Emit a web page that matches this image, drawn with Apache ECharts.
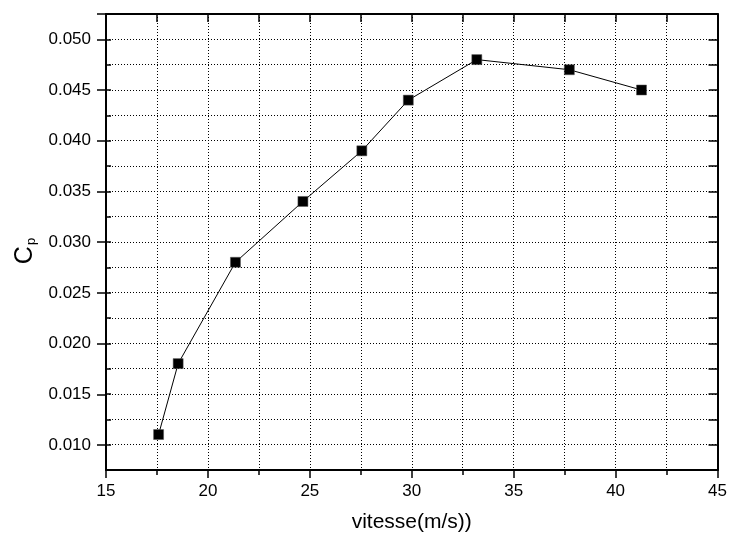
<!DOCTYPE html>
<html>
<head>
<meta charset="utf-8">
<script src="https://cdn.jsdelivr.net/npm/echarts@6/dist/echarts.min.js"></script>
<style>
  html, body { margin: 0; padding: 0; background: #fff; }
  #chart { width: 730px; height: 538px; }
</style>
</head>
<body>
<div id="chart"></div>
<script>
// vitesse (m/s) et coefficient de puissance
const vitesse = [17.58, 18.54, 21.35, 24.66, 27.55, 29.83, 33.19, 37.73, 41.27]
const cp = [0.011, 0.018, 0.028, 0.034, 0.039, 0.044, 0.048, 0.047, 0.045]

const font = 'Liberation Sans, Arial, sans-serif'
const dots = { color: '#000', width: 1, type: [1, 2] }

const chart = echarts.init(document.getElementById('chart'))

// grille 1 = zone du tracé ; grille 2 = même échelle, démarrant à 0.010
// pour poser les graduations principales (0.010, 0.015, ...) vers l'extérieur
const option = {
  animation: false,
  backgroundColor: '#fff',
  grid: [
    { left: 106, right: 11, top: 14, bottom: 68 },
    { left: 106, right: 11, top: 14, bottom: 93 }
  ],
  xAxis: [
    {
      type: 'value', gridIndex: 0, position: 'bottom',
      min: 15, max: 45, interval: 5,
      name: 'vitesse(m/s))', nameLocation: 'middle', nameGap: 42,
      nameTextStyle: { fontFamily: font, fontSize: 21, color: '#000' },
      axisLine: { onZero: false, lineStyle: { color: '#000', width: 2 } },
      axisTick: { inside: false, length: 8, lineStyle: { color: '#000', width: 1.5 } },
      minorTick: { show: true, splitNumber: 2, length: 5, lineStyle: { color: '#000', width: 1.5 } },
      axisLabel: { margin: 13, fontFamily: font, fontSize: 17, color: '#000' },
      splitLine: { show: true, lineStyle: dots },
      minorSplitLine: { show: true, lineStyle: dots }
    },
    {
      type: 'value', gridIndex: 0, position: 'top',
      min: 15, max: 45, interval: 2.5,
      axisLine: { onZero: false, lineStyle: { color: '#000', width: 2 } },
      axisTick: { inside: true, length: 8, lineStyle: { color: '#000', width: 1.5 } },
      axisLabel: { show: false },
      splitLine: { show: false }
    },
    { type: 'value', gridIndex: 1, min: 15, max: 45, show: false }
  ],
  yAxis: [
    {
      type: 'value', gridIndex: 0, position: 'left',
      min: 0.0075, max: 0.0525, interval: 0.0025,
      name: 'C{p|p}', nameLocation: 'middle', nameGap: 68,
      nameTextStyle: {
        fontFamily: font, fontSize: 25, color: '#000', padding: [0, 18, 0, 0],
        rich: { p: { fontFamily: font, fontSize: 13, color: '#000', padding: [11, 0, 0, 1] } }
      },
      axisLine: { onZero: false, lineStyle: { color: '#000', width: 2 } },
      axisTick: { inside: true, length: 5, lineStyle: { color: '#000', width: 1.5 } },
      axisLabel: { show: false },
      splitLine: { show: true, lineStyle: dots }
    },
    {
      type: 'value', gridIndex: 0, position: 'right',
      min: 0.0075, max: 0.0525, interval: 0.0025,
      axisLine: { onZero: false, lineStyle: { color: '#000', width: 2 } },
      axisTick: { inside: true, length: 9, lineStyle: { color: '#000', width: 1.5 } },
      axisLabel: { show: false },
      splitLine: { show: false }
    },
    {
      type: 'value', gridIndex: 1, position: 'left',
      min: 0.010, max: 0.0525, interval: 0.005,
      axisLine: { show: false },
      axisTick: { inside: false, length: 9, lineStyle: { color: '#000', width: 1.5 } },
      axisLabel: {
        margin: 15, fontFamily: font, fontSize: 17, color: '#000',
        formatter: v => v > 0.051 ? '' : v.toFixed(3)
      },
      splitLine: { show: false }
    }
  ],
  series: [
    {
      type: 'line',
      xAxisIndex: 0, yAxisIndex: 0,
      data: vitesse.map((v, i) => [v, cp[i]]),
      symbol: 'rect', symbolSize: 10,
      lineStyle: { color: '#000', width: 1 },
      itemStyle: { color: '#000', borderColor: '#555', borderWidth: 0.5 }
    }
  ]
}

chart.setOption(option)
</script>
</body>
</html>
